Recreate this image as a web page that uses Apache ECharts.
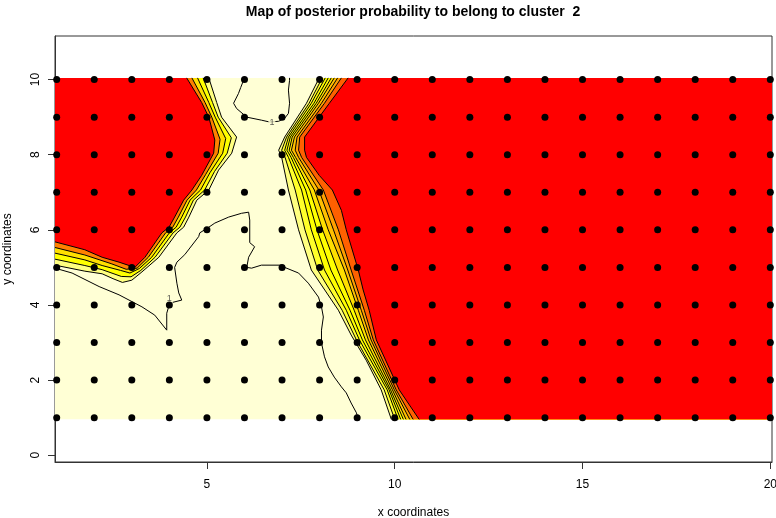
<!DOCTYPE html>
<html>
<head>
<meta charset="utf-8">
<script src="https://cdn.jsdelivr.net/npm/echarts@6/dist/echarts.min.js"></script>
<style>
  html, body { margin: 0; padding: 0; background: #fff; }
  #chart { width: 776px; height: 518px; }
</style>
</head>
<body>
<div id="chart"></div>
<script>
// sites of the spatial grid
const siteX = [1, 2, 3, 4, 5, 6, 7, 8, 9, 10, 11, 12, 13, 14, 15, 16, 17, 18, 19, 20];
const siteY = [1, 2, 3, 4, 5, 6, 7, 8, 9, 10];
const xTicks = [5, 10, 15, 20];
const yTicks = [0, 2, 4, 6, 8, 10];
const fieldX = [0.955, 20.045];
const fieldY = [0.955, 10.045];

// left red zone: contour lines from the top edge to the left edge (red side -> pale side)
const leftL1 = [[4.46, 10.045], [4.86, 9.39], [5.05, 9.0], [5.21, 8.39], [5.18, 8.04], [4.86, 7.45], [4.60, 7.06], [4.38, 6.79], [4.14, 6.34], [3.99, 6.07], [3.80, 5.92], [3.35, 5.27], [3.08, 5.0], [2.66, 5.14], [2.21, 5.27], [1.75, 5.47], [0.955, 5.68]];
const leftL3 = [[4.6, 10.045], [4.95, 9.39], [5.13, 9.0], [5.35, 8.41], [5.3, 8.04], [4.97, 7.48], [4.72, 7.06], [4.47, 6.79], [4.24, 6.34], [4.09, 6.07], [3.9, 5.92], [3.44, 5.27], [3.14, 4.98], [2.85, 4.95], [2.45, 5.1], [1.75, 5.33], [0.955, 5.53]];
const leftL5 = [[4.75, 10.045], [5.05, 9.39], [5.22, 9.0], [5.5, 8.43], [5.42, 8.04], [5.08, 7.52], [4.83, 7.06], [4.55, 6.79], [4.33, 6.34], [4.18, 6.07], [4.0, 5.92], [3.53, 5.27], [3.2, 4.97], [2.95, 4.85], [2.7, 4.92], [2.21, 5.05], [1.75, 5.2], [0.955, 5.38]];
const leftL7 = [[4.9, 10.045], [5.15, 9.39], [5.3, 9.0], [5.65, 8.45], [5.54, 8.04], [5.2, 7.55], [4.94, 7.06], [4.64, 6.79], [4.43, 6.34], [4.28, 6.07], [4.1, 5.92], [3.62, 5.27], [3.24, 4.92], [2.98, 4.75], [2.72, 4.76], [2.21, 4.94], [1.75, 5.05], [0.955, 5.22]];
const leftL9 = [[5.05, 10.045], [5.26, 9.39], [5.39, 9.0], [5.79, 8.47], [5.66, 8.04], [5.31, 7.59], [5.05, 7.06], [4.73, 6.79], [4.52, 6.34], [4.38, 6.07], [4.20, 5.92], [3.72, 5.27], [3.27, 4.88], [3.0, 4.66], [2.75, 4.6], [2.5, 4.7], [2.21, 4.83], [1.75, 4.9], [0.955, 5.06]];

// right red zone: contour lines from the top edge to the bottom edge (red side -> pale side)
const rightL1 = [[8.76, 10.045], [8.26, 9.37], [7.60, 8.47], [7.60, 8.12], [7.65, 7.93], [7.99, 7.45], [8.34, 7.06], [8.58, 6.52], [8.71, 6.0], [9.03, 4.93], [9.16, 4.40], [9.32, 3.86], [9.51, 3.07], [10.12, 1.74], [10.65, 0.955]];
const rightL2 = [[8.58, 10.045], [8.13, 9.37], [7.47, 8.47], [7.44, 8.12], [7.52, 7.93], [8.10, 7.06], [8.50, 6.0], [8.84, 4.93], [9.19, 3.86], [9.43, 3.07], [10.04, 1.74], [10.49, 0.955]];
const rightL3 = [[8.48, 10.045], [8.05, 9.37], [7.40, 8.47], [7.35, 8.12], [7.44, 7.93], [7.98, 7.06], [8.37, 6.0], [8.75, 4.93], [9.11, 3.86], [9.37, 3.07], [9.99, 1.74], [10.40, 0.955]];
const rightL4 = [[8.39, 10.045], [7.97, 9.37], [7.33, 8.47], [7.25, 8.12], [7.36, 7.93], [7.86, 7.06], [8.23, 6.0], [8.66, 4.93], [9.03, 3.86], [9.30, 3.07], [9.94, 1.74], [10.30, 0.955]];
const rightL5 = [[8.31, 10.045], [7.91, 9.37], [7.27, 8.47], [7.19, 8.12], [7.30, 7.93], [7.74, 7.06], [8.08, 6.0], [8.48, 4.93], [8.92, 3.86], [9.22, 3.07], [9.89, 1.74], [10.23, 0.955]];
const rightL6 = [[8.23, 10.045], [7.85, 9.37], [7.22, 8.47], [7.13, 8.12], [7.24, 7.93], [7.63, 7.06], [7.93, 6.0], [8.30, 4.93], [8.81, 3.86], [9.14, 3.07], [9.85, 1.74], [10.16, 0.955]];
const rightL7 = [[8.15, 10.045], [7.78, 9.37], [7.17, 8.47], [7.07, 8.12], [7.17, 7.93], [7.52, 7.06], [7.78, 6.0], [8.13, 4.93], [8.71, 3.86], [9.06, 3.07], [9.80, 1.74], [10.09, 0.955]];
const rightL8 = [[8.07, 10.045], [7.72, 9.37], [7.12, 8.47], [6.99, 8.12], [7.08, 7.93], [7.35, 7.06], [7.61, 6.0], [7.95, 4.93], [8.60, 3.86], [8.98, 3.07], [9.72, 1.74], [10.0, 0.955]];
const rightL9 = [[7.99, 10.045], [7.65, 9.37], [7.07, 8.47], [6.91, 8.12], [6.99, 7.93], [7.17, 7.06], [7.44, 6.0], [7.78, 4.93], [8.50, 3.86], [8.84, 3.2], [9.24, 2.53], [9.64, 1.74], [9.91, 0.955]];

// level 1 contours inside the pale zone
const oneTop = [[6.00, 10.045], [5.90, 9.79], [5.84, 9.63], [5.71, 9.37], [5.79, 9.23], [6.06, 9.0], [6.45, 8.92], [6.67, 8.87], [6.91, 8.89], [7.07, 8.97], [7.17, 9.10], [7.20, 9.37], [7.17, 9.72], [7.20, 9.98], [7.20, 10.045]];
const oneLong = [[0.955, 4.98], [1.41, 4.85], [2.13, 4.49], [2.66, 4.27], [3.27, 3.95], [3.61, 3.73], [3.93, 3.33], [3.93, 3.78], [4.01, 4.05], [4.33, 4.13], [4.25, 4.32], [4.20, 4.58], [4.14, 5.0], [4.20, 5.14], [4.41, 5.34], [4.78, 5.82], [4.81, 5.92], [5.05, 6.07], [5.21, 6.18], [5.58, 6.34], [5.92, 6.44], [6.11, 6.47], [6.14, 6.26], [6.14, 5.66], [6.27, 5.55], [6.11, 5.27], [6.06, 5.0], [6.19, 4.98], [6.45, 5.06], [6.99, 5.06], [7.07, 5.0], [7.44, 4.85], [7.70, 4.58], [7.97, 4.21], [8.05, 3.95], [8.10, 3.68], [8.05, 3.33], [8.05, 2.99], [8.13, 2.62], [8.23, 2.35], [8.39, 2.08], [8.58, 1.82], [8.71, 1.66], [8.84, 1.39], [8.98, 1.13], [9.03, 0.955]];
const oneLabels = [[6.73, 8.85], [4.0, 4.16]];

const cornersRight = [[fieldX[1], fieldY[0]], [fieldX[1], fieldY[1]]];
const cornerLeft = [[fieldX[0], fieldY[1]]];

const leftLines = [leftL9, leftL7, leftL5, leftL3, leftL1];
const leftColors = ['#FFFF80', '#FFFF00', '#FFDF00', '#FF8000', '#FF0000'];
const rightLines = [rightL9, rightL8, rightL7, rightL6, rightL5, rightL4, rightL3, rightL2, rightL1];
const rightColors = ['#FFFF80', '#FFFF2A', '#FFFF00', '#FFFF00', '#FFDF00', '#FFBF00', '#FF9F00', '#FF6000', '#FF0000'];

const regions = [{ pts: [[fieldX[0], fieldY[0]], [fieldX[1], fieldY[0]], [fieldX[1], fieldY[1]], [fieldX[0], fieldY[1]]], color: '#FFFFD5' }];
leftLines.forEach((l, i) => regions.push({ pts: l.concat(cornerLeft), color: leftColors[i] }));
rightLines.forEach((l, i) => regions.push({ pts: l.concat(cornersRight), color: rightColors[i] }));

const sites = [];
siteY.forEach(y => siteX.forEach(x => sites.push([x, y])));

function contour(data) {
  return {
    type: 'line', data: data, showSymbol: false, symbol: 'none', silent: true,
    lineStyle: { color: '#000', width: 1 }, z: 3, animation: false
  };
}

const font = 'Liberation Sans, Arial, sans-serif';
const chart = echarts.init(document.getElementById('chart'));
chart.setOption({
  animation: false,
  graphic: [{
    type: 'text', x: 413, y: 5,
    style: { text: 'Map of posterior probability to belong to cluster  2', textAlign: 'center',
      font: 'bold 14px ' + font, fill: '#000' }
  }],
  grid: { left: 55, right: 4, top: 36, bottom: 56, outerBoundsMode: 'none', containLabel: false,
    show: true, borderColor: '#333', borderWidth: 1 },
  xAxis: {
    type: 'value', min: 0.955, max: 20.045,
    axisLine: { onZero: false, lineStyle: { color: '#333' } },
    axisTick: { length: 7, customValues: xTicks, lineStyle: { color: '#333' } },
    axisLabel: { customValues: xTicks, fontSize: 12, color: '#000', margin: 17, fontFamily: font },
    splitLine: { show: false },
    name: 'x coordinates', nameLocation: 'middle', nameGap: 45,
    nameTextStyle: { fontSize: 12, color: '#000', fontFamily: font }
  },
  yAxis: {
    type: 'value', min: -0.18, max: 11.16,
    axisLine: { onZero: false, lineStyle: { color: '#333' } },
    axisTick: { length: 7, customValues: yTicks, lineStyle: { color: '#333' } },
    axisLabel: { customValues: yTicks, fontSize: 12, color: '#000', rotate: 90, margin: 13, fontFamily: font },
    splitLine: { show: false },
    name: 'y coordinates', nameLocation: 'middle', nameGap: 41, nameRotate: 90,
    nameTextStyle: { fontSize: 12, color: '#000', fontFamily: font }
  },
  series: [
    {
      type: 'custom', silent: true, z: 1,
      data: regions.map(r => r.pts[0]),
      renderItem: function (params, api) {
        const r = regions[params.dataIndex];
        return {
          type: 'polygon',
          shape: { points: r.pts.map(p => api.coord(p)) },
          style: { fill: r.color, stroke: null }
        };
      }
    },
    ...leftLines.map(contour),
    ...rightLines.map(contour),
    contour(oneTop), contour(oneLong),
    {
      type: 'scatter', data: oneLabels, symbolSize: 1, silent: true, z: 4,
      itemStyle: { color: 'rgba(0,0,0,0)' },
      label: { show: true, position: 'inside', formatter: '1', fontSize: 9, color: '#333',
        backgroundColor: '#FFFFD5', padding: [0, 1], fontFamily: font }
    },
    {
      type: 'scatter', data: sites, symbol: 'circle', symbolSize: 7, clip: false, silent: true, z: 5,
      itemStyle: { color: '#000', opacity: 1 }
    }
  ]
});
window.addEventListener('resize', () => chart.resize());
</script>
</body>
</html>
